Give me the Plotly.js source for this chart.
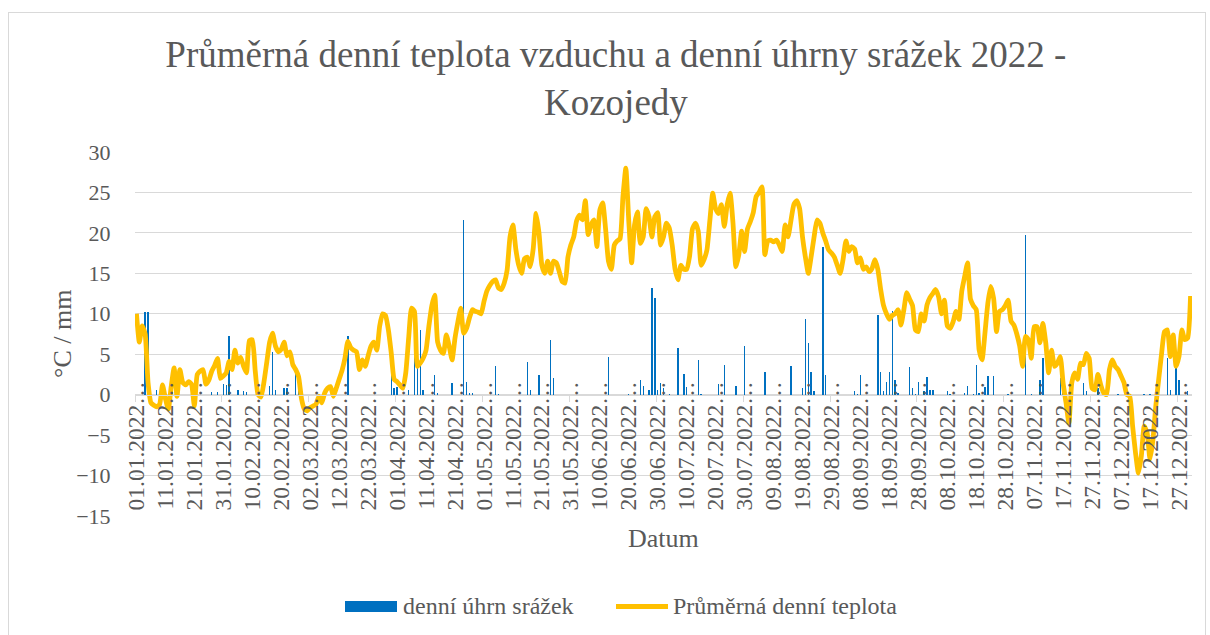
<!DOCTYPE html>
<html>
<head>
<meta charset="utf-8">
<script src="https://cdn.plot.ly/plotly-3.0.1.min.js"></script>
<style>
  html, body { margin: 0; padding: 0; background: #ffffff; }
  #chart { width: 1210px; height: 635px; }
  #frame { position: absolute; left: 8px; top: 12px; width: 1196px; height: 640px; border: 1px solid #d9d9d9; pointer-events: none; }
</style>
</head>
<body>
<div id="chart"></div>
<div id="frame"></div>
<script>
// Tick labels (every 10th day)
const tickLabels = [
  '01.01.2022…','11.01.2022…','21.01.2022…','31.01.2022…','10.02.2022…','20.02.2022…',
  '02.03.2022…','12.03.2022…','22.03.2022…','01.04.2022…','11.04.2022…','21.04.2022…',
  '01.05.2022…','11.05.2022…','21.05.2022…','31.05.2022…','10.06.2022…','20.06.2022…',
  '30.06.2022…','10.07.2022…','20.07.2022…','30.07.2022…','09.08.2022…','19.08.2022…',
  '29.08.2022…','08.09.2022…','18.09.2022…','28.09.2022…','08.10.2022…','18.10.2022…',
  '28.10.2022…','07.11.2022…','17.11.2022…','27.11.2022…','07.12.2022…','17.12.2022…',
  '27.12.2022…'
];

// Daily mean air temperature (°C), day 0 = 01.01.2022
const temperature = [
  10, 6.5, 8.5, 7.5, 1.5, -1, -1.3, -1.5, -1.2, 1.2,
  -0.5, -1.8, 1, 3.3, -0.2, 3.1, 1.5, 1.2, 1.6, 1.3,
  -1.4, 2.5, 2.9, 3.1, 1.3, 1.8, 2.9, 3.6, 4.5, 2,
  2.3, 2.7, 4.1, 3.1, 5.5, 3.9, 4.6, 3.5, 2.7, 6.7,
  6.8, 3, 0, -0.3, 1.5, 4, 6.5, 7.6, 6, 5.3,
  5.6, 6.5, 4.8, 5.3, 3.7, 3.1, 2.2, -0.5, -1.8, -2,
  -1.6, -1.4, -1.2, -0.2, -1, 0.2, 0.8, 1, -0.2, 0.8,
  1.9, 3, 4.5, 6.6, 5.8, 5.5, 5.3, 3.1, 4.3, 3.5,
  4.8, 6, 6.5, 5.5, 8.5, 10, 9.8, 8, 5.1, 1.9,
  1.6, 1.2, 0.8, 2.7, 7, 10.7, 10.3, 3.5, 3.9, 4.5,
  5.5, 8.5, 11, 12.3, 6.5, 5.5, 5.1, 7.4, 6, 4.3,
  7, 9, 10.7, 7.6, 8.2, 9.5, 10.5, 10.3, 10.2, 10,
  11.5, 12.8, 13.5, 14, 14.2, 13.2, 13, 13.8, 15.4, 19.5,
  21, 18, 16, 15, 16.8, 17, 15.8, 18, 22.4, 20,
  16, 15, 16.5, 15, 16.5, 16.3, 15.2, 14, 13.8, 17,
  18.5, 19.5, 21.5, 22.2, 21.6, 24, 19.8, 21, 21.6, 18.3,
  22.8, 23.7, 20.5, 16.5, 15.5, 18.5, 19, 19.3, 24.5, 28,
  21.5, 16.3, 21, 22.6, 18.7, 19.5, 23, 22, 19.5, 22,
  22.5, 18.5, 19.5, 21.2, 20.6, 18.5, 15.5, 14.2, 16, 15.5,
  15.5, 17.1, 20.5, 21.2, 20.2, 16, 16.7, 17.9, 21.5, 24.9,
  23, 22.4, 23.5, 20.8, 23.5, 24.9, 21.2, 15.8, 17.3, 20.2,
  17.7, 20.5, 21.4, 22.5, 24.5, 25, 25.7, 17.3, 19, 19.1,
  18.9, 19.1, 18.5, 17.7, 21, 19.5, 21.5, 23.5, 24, 23,
  19.5, 17, 15, 17.1, 19.5, 21.6, 21.2, 20, 19, 17.9,
  17.5, 17, 16, 15, 16.7, 19, 17.7, 18.3, 18, 16.3,
  16.9, 15.5, 15.8, 15.2, 15.6, 16.7, 15.5, 13, 11, 10,
  9.3, 9.8, 10, 10.5, 8.6, 10.5, 12.6, 11.8, 11, 8,
  7.8, 10, 9.1, 11.1, 12, 12.5, 13, 12.1, 10, 11.7,
  8.5, 8.2, 9, 10.3, 9.3, 12.8, 14.6, 16.3, 11.8, 11,
  10.5, 5.5, 4.3, 7.6, 11.3, 13.4, 11.9, 7.8, 10.3, 10.5,
  11, 11.7, 9.1, 8.6, 7.5, 6, 3.5, 7.2, 6.8, 4.5,
  8.4, 8.4, 6.4, 8.8, 6.4, 2.7, 5.5, 3.5, 3.9, 4.7,
  1.4, -1, -3.5, 1.5, 2.7, 1.9, 3.9, 3.7, 5.1, 4.5,
  0.8, 0.6, 2.5, 1.2, 0.2, 0, 3.1, 4.3, 3.5, 3.1,
  2.3, 1.5, 0, -0.2, -3.9, -7.2, -9.7, -7.6, -3.9, -4.7,
  -8, -5.6, -1.4, 1.9, 5.1, 7.8, 8, 4.7, 7.4, 3.5,
  4.7, 8, 6.8, 7, 12.2
];

// Daily precipitation (mm): day index and amount (days without rain omitted)
const rainDay = [3, 4, 7, 26, 28, 30, 31, 32, 35, 37, 38,
  46, 47, 48, 51, 52, 55, 56, 73, 88, 89, 90,
  94, 96, 97, 98, 99, 103, 104, 109, 113, 114, 115, 116, 124, 125, 135, 136,
  139, 143, 144, 163, 170, 174, 175, 177, 178, 179, 180, 181, 182, 184,
  187, 189, 190, 194, 195, 201, 203, 207, 210, 217, 226, 230,
  231, 232, 233, 234, 237, 238, 248, 249, 250, 256, 257, 258, 259, 260, 261, 262, 263,
  267, 268, 269, 270, 272, 273, 274, 275,
  280, 281, 286, 287, 289, 290, 291, 293, 294, 296, 301, 307, 309, 312, 313, 319, 320,
  327, 328, 332, 339, 348, 350, 356, 357, 359, 360, 363];
const rainMm = [10.2, 10.2, 0.6, 0.3, 0.3, 1.3, 1.2, 7.2, 0.6, 0.4, 0.3,
  1.1, 5.3, 0.6, 0.8, 0.8, 3.1, 0.6, 7.2, 3.7, 0.8, 1.0,
  0.6, 6.8, 3.5, 8.0, 0.6, 2.4, 0.2, 1.4, 21.6, 1.6, 0.2, 0.2, 3.6, 0.1, 4.0, 0.6,
  2.4, 6.8, 2.0, 4.7, 0.1, 1.8, 1.1, 0.6, 13.2, 11.9, 0.6, 1.4, 0.8, 0.1,
  5.8, 2.6, 0.9, 4.3, 0.1, 1.3, 3.7, 1.1, 6.0, 2.8, 3.6, 0.8,
  9.4, 6.4, 2.8, 0.5, 18.3, 2.4, 0.5, 0.1, 2.4, 9.8, 2.8, 0.5, 1.6, 2.8, 10.3, 1.8, 0.2,
  3.4, 0.8, 0.1, 1.6, 0.4, 2.2, 0.6, 0.6,
  0.5, 0.1, 0.2, 1.1, 0.1, 3.7, 0.2, 0.9, 2.3, 2.3, 0.1, 19.8, 0.1, 1.8, 4.5, 2.0, 2.0,
  1.4, 0.4, 0.8, 0.1, 0.1, 0.1, 4.5, 0.6, 4.0, 1.8, 0.4];

const seriesNames = ['denní úhrn srážek', 'Průměrná denní teplota'];
const seriesColors = ['#0070C0', '#FFC000'];

const FONT = '"Liberation Serif", "Times New Roman", serif';
const GREY = '#595959';
const GRID = '#d9d9d9';

// plot-area geometry (pixels) used to place decorations in paper coordinates
const PL = 135, PW = 1057, PB = 516, PH = 364;
const px = v => (v - PL) / PW;
const py = v => (PB - v) / PH;

const dayIndex = temperature.map((_, i) => i);
const labelVals = tickLabels.map((_, i) => i * 10);
const monthTicks = [];
for (let v = -0.5; v <= 365; v += 30) monthTicks.push(v);

const traces = [
  {
    type: 'bar',
    name: seriesNames[0],
    x: rainDay,
    y: rainMm,
    width: 0.5,
    marker: { color: seriesColors[0], line: { width: 0 } },
    xaxis: 'x',
    yaxis: 'y'
  },
  {
    type: 'scatter',
    mode: 'lines',
    name: seriesNames[1],
    x: dayIndex,
    y: temperature,
    line: { color: seriesColors[1], width: 4.8, shape: 'spline', smoothing: 0.5 },
    xaxis: 'x2',
    yaxis: 'y'
  }
];

const layout = {
  width: 1210,
  height: 635,
  margin: { l: 135, r: 18, t: 152, b: 119, pad: 0 },
  paper_bgcolor: '#ffffff',
  plot_bgcolor: '#ffffff',
  font: { family: FONT, color: GREY, size: 22 },
  title: {
    text: 'Průměrná denní teplota vzduchu a denní úhrny srážek 2022 -<br>Kozojedy',
    font: { family: FONT, size: 37, color: GREY },
    xref: 'container', x: 0.509, xanchor: 'center',
    yref: 'container', y: 1 - 67 / 635, yanchor: 'middle'
  },
  showlegend: false,
  xaxis: {
    range: [-0.5, 364.5],
    anchor: 'free',
    position: 0.386,
    side: 'bottom',
    tickmode: 'array',
    tickvals: labelVals,
    ticktext: tickLabels,
    tickangle: -90,
    ticks: '',
    showgrid: false,
    zeroline: false,
    showline: false,
    tickfont: { family: FONT, size: 23.5, color: GREY }
  },
  xaxis2: {
    range: [-0.5, 364.5],
    overlaying: 'x',
    anchor: 'free',
    position: 15 / 45,
    side: 'bottom',
    tickmode: 'array',
    tickvals: monthTicks,
    ticks: 'outside',
    ticklen: 6,
    tickcolor: GRID,
    tickwidth: 1,
    showticklabels: false,
    showline: true,
    linecolor: GRID,
    linewidth: 1.2,
    showgrid: false,
    zeroline: false
  },
  yaxis: {
    range: [-15, 30],
    tickmode: 'linear',
    tick0: 0,
    dtick: 5,
    gridcolor: GRID,
    gridwidth: 1.2,
    zeroline: false,
    showline: false,
    ticks: 'outside',
    ticklen: 19,
    tickcolor: 'rgba(0,0,0,0)',
    tickfont: { family: FONT, size: 22, color: GREY }
  },
  shapes: [
    // legend keys
    { type: 'rect', xref: 'paper', yref: 'paper',
      x0: px(345), x1: px(397), y0: py(612), y1: py(601),
      fillcolor: seriesColors[0], line: { width: 0 } },
    { type: 'line', xref: 'paper', yref: 'paper',
      x0: px(616), x1: px(668), y0: py(606.5), y1: py(606.5),
      line: { color: seriesColors[1], width: 5 } }
  ],
  annotations: [
    {
      text: '°C / mm', textangle: -90, showarrow: false,
      xref: 'paper', x: px(62), xanchor: 'center',
      yref: 'paper', y: 0.5, yanchor: 'middle',
      font: { family: FONT, size: 26, color: GREY }
    },
    {
      text: 'Datum', showarrow: false,
      xref: 'paper', x: 0.5, xanchor: 'center',
      yref: 'paper', y: py(538), yanchor: 'middle',
      font: { family: FONT, size: 26, color: GREY }
    },
    {
      text: seriesNames[0], showarrow: false,
      xref: 'paper', x: px(401), xanchor: 'left',
      yref: 'paper', y: py(606), yanchor: 'middle',
      font: { family: FONT, size: 24, color: GREY }
    },
    {
      text: seriesNames[1], showarrow: false,
      xref: 'paper', x: px(671), xanchor: 'left',
      yref: 'paper', y: py(606), yanchor: 'middle',
      font: { family: FONT, size: 24, color: GREY }
    }
  ],
  bargap: 0
};

Plotly.newPlot('chart', traces, layout, { displayModeBar: false, staticPlot: true });
</script>
</body>
</html>
